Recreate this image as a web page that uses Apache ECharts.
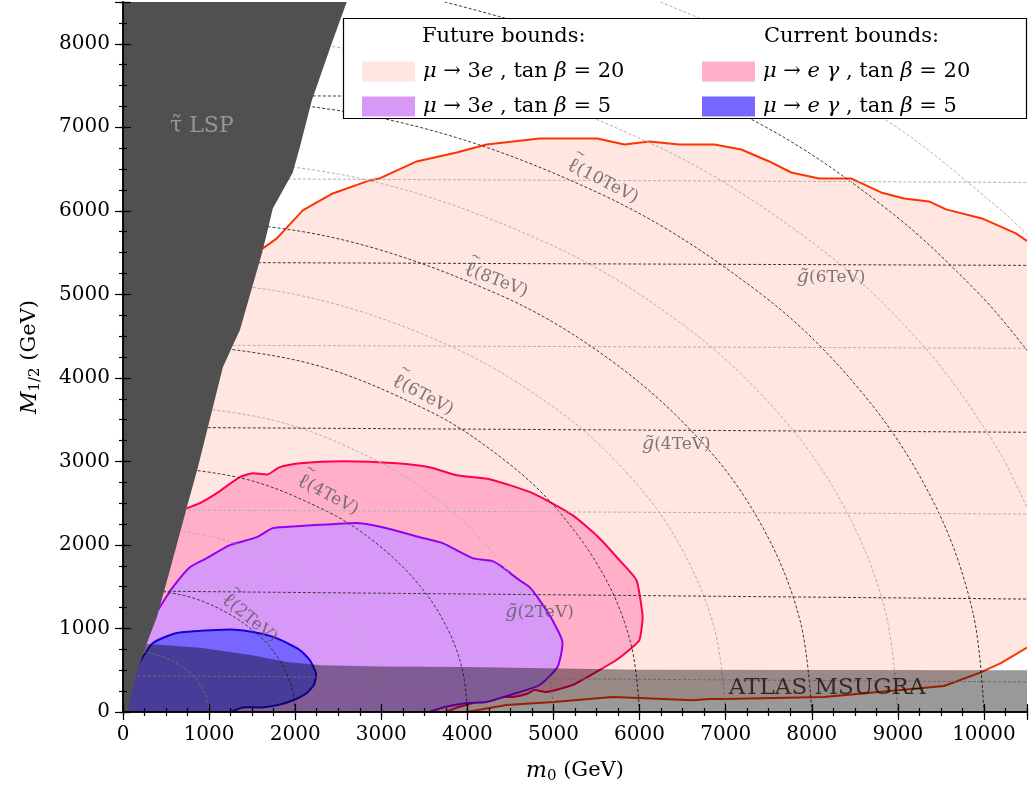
<!DOCTYPE html>
<html><head><meta charset="utf-8">
<script src="https://cdn.jsdelivr.net/npm/echarts/dist/echarts.min.js"></script>
<style>html,body{margin:0;padding:0;background:#fff}#c{width:1030px;height:795px}</style>
</head><body><div id="c"></div><script>
// ---------------- data (m0, M1/2 in GeV) ----------------
const xTickValues = [0,1000,2000,3000,4000,5000,6000,7000,8000,9000,10000];
const yTickValues = [0,1000,2000,3000,4000,5000,6000,7000,8000];

// stau LSP excluded region
const lspRegion = [[0,0],[58,0],[139,419],[278,825],[394,1136],[545,1699],[742,2452],[870,2931],[986,3409],[1160,4127],[1276,4390],[1357,4569],[1613,5490],[1671,5730],[1740,6029],[1972,6459],[2053,6758],[2193,7321],[2436,8038],[2599,8500],[0,8500]];

// future mu->3e, tan beta = 20 (upper and lower boundary)
const future20Upper = [[1624,5550],[1787,5670],[2088,6005],[2436,6208],[2865,6364],[2981,6388],[3411,6591],[3875,6699],[4223,6794],[4838,6866],[5510,6866],[5824,6794],[6114,6830],[6462,6794],[6868,6794],[7181,6734],[7506,6591],[7761,6459],[8086,6388],[8457,6388],[8805,6220],[9072,6148],[9362,6112],[9559,6017],[9977,5909],[10371,5730],[10500,5640]];
const future20Lower = [[10500,770],[10197,586],[9942,466],[9536,311],[8144,179],[6984,155],[6810,155],[6613,140],[5998,167],[5684,179],[5000,120],[4455,84],[3990,0]];
// current mu->e gamma, tan beta = 20
const current20 = [[742,2440],[893,2500],[1090,2620],[1357,2811],[1508,2859],[1682,2845],[1821,2931],[2053,2979],[2552,3002],[3179,2979],[3561,2931],[3875,2835],[4258,2787],[4756,2620],[5220,2356],[5534,2081],[5766,1818],[5963,1579],[6032,1184],[6032,1077],[5998,861],[5905,766],[5731,622],[5534,502],[5220,323],[4919,239],[4780,263],[4687,215],[4524,179],[4432,179],[4200,140],[3900,60],[3750,0]];
// future mu->3e, tan beta = 5
const future5 = [[406,1220],[580,1495],[777,1734],[974,1842],[1241,1998],[1555,2093],[1740,2201],[2019,2225],[2436,2249],[2749,2261],[3063,2201],[3445,2093],[3712,2022],[4060,1842],[4292,1806],[4408,1734],[4571,1603],[4722,1495],[4838,1340],[4988,1100],[5104,837],[5046,538],[4838,323],[4571,227],[4223,120],[3990,108],[3735,60],[3561,0]];
// current mu->e gamma, tan beta = 5
const current5 = [[174,562],[348,825],[626,945],[1090,981],[1300,985],[1508,957],[1770,890],[2053,742],[2169,622],[2240,466],[2220,330],[2135,227],[2000,150],[1800,84],[1600,55],[1392,55],[1250,0]];
// ATLAS mSUGRA exclusion (upper edge)
const atlasEdge = [[0,830],[150,825],[900,770],[1500,680],[1900,600],[2300,560],[3000,545],[4000,538],[6000,505],[10500,500]];

// slepton mass contours
const slepton1 = [[0,745],[343,700],[593,600],[797,450],[915,300],[980,150],[1000,0]];
const slepton2 = [[0,1491],[687,1400],[1187,1200],[1594,900],[1831,600],[1959,300],[2000,0]];
const slepton3 = [[0,2236],[1031,2100],[1780,1800],[2339,1400],[2683,1000],[2924,500],[3000,0]];
const slepton4 = [[0,2981],[1375,2800],[2373,2400],[2966,2000],[3457,1500],[3768,1000],[3943,500],[4000,0]];
const slepton5 = [[0,3727],[1718,3500],[2966,3000],[3708,2500],[4219,2000],[4634,1400],[4911,700],[5000,0]];
const slepton6 = [[0,4472],[2061,4200],[3560,3600],[4450,3000],[5063,2400],[5603,1600],[5903,800],[6000,0]];
const slepton7 = [[0,5217],[2000,5000],[3762,4400],[5067,3600],[5907,2800],[6465,2000],[6870,1000],[7000,0]];
const slepton8 = [[0,5963],[2349,5700],[4359,5000],[5679,4200],[6751,3200],[7436,2200],[7863,1100],[8000,0]];
const slepton9 = [[0,6708],[2696,6400],[4955,5600],[6551,4600],[7678,3500],[8404,2400],[8855,1200],[9000,0]];
const slepton10 = [[0,7454],[3043,7100],[5551,6200],[7416,5000],[8603,3800],[9421,2500],[9870,1200],[10000,0]];
const slepton11 = [[0,8199],[3391,7800],[6146,6800],[8034,5600],[9282,4400],[10128,3200],[10500,2444]];
const slepton12 = [[3735,8500],[5367,8000],[7470,7000],[8899,6000],[9950,5000],[10500,4330]];
const slepton13 = [[6241,8500],[7335,8000],[8989,7000],[10208,6000],[10500,5713]];
// gluino mass contours
const gluino1 = [[0,435],[10500,359]];
const gluino2 = [[0,1450],[10500,1352]];
const gluino3 = [[0,2420],[10500,2370]];
const gluino4 = [[0,3410],[10500,3349]];
const gluino5 = [[0,4395],[10500,4354]];
const gluino6 = [[0,5385],[10500,5347]];
const gluino7 = [[0,6390],[10500,6340]];
const gluino8 = [[0,7385],[10500,7340]];

// ---------------- presentation ----------------
const FF = "'DejaVu Serif', 'Liberation Serif', serif";
const chart = echarts.init(document.getElementById('c'), null, {renderer:'canvas'});

function region(name, fill, stroke, curves, closure, z, smooth) {
  const poly = [].concat(...curves, closure);
  return {
    type:'custom', name, z, clip:true, silent:true, coordinateSystem:'cartesian2d',
    xAxisIndex:0, yAxisIndex:0,
    itemStyle:{color:fill},
    data:[[0,0]],
    renderItem(params, api) {
      const children = [{type:'polygon', shape:{points: poly.map(p => api.coord(p)), smooth: smooth || 0}, style:{fill:fill}}];
      if (stroke) curves.forEach(c => children.push({type:'polyline', shape:{points:c.map(p => api.coord(p)), smooth: smooth || 0}, style:{stroke:stroke, lineWidth:2, fill:null, lineJoin:'round'}}));
      return {type:'group', children};
    }
  };
}
function contour(data, dark) {
  return {type:'line', data, smooth:0.35, showSymbol:false, symbol:'none', silent:true, z:5, clip:true,
    xAxisIndex:0, yAxisIndex:0,
    lineStyle:{color: dark ? '#3a3a3a' : '#b0b0b0', width:1, type:[3,2]}};
}
const sleptons = [slepton1,slepton2,slepton3,slepton4,slepton5,slepton6,slepton7,slepton8,slepton9,slepton10,slepton11,slepton12,slepton13];
const gluinos = [gluino1,gluino2,gluino3,gluino4,gluino5,gluino6,gluino7,gluino8];

// label anchors (layout): slepton labels anchored at their start, gluino labels at centre
const sleptonLabels = [
  {mass:'2TeV', at:[1198,1406], rot:-40},
  {mass:'4TeV', at:[2058,2819], rot:-28},
  {mass:'6TeV', at:[3160,4016], rot:-28},
  {mass:'8TeV', at:[3987,5347], rot:-21},
  {mass:'10TeV', at:[5189,6599], rot:-27}
];
const gluinoLabels = [
  {mass:'2TeV', at:[4838,1196]},
  {mass:'4TeV', at:[6427,3206]},
  {mass:'6TeV', at:[8225,5203]}
];

const labelItems = sleptonLabels.map(d => ({value:d.at, name:'{tl|~}\n{l|\u2113}{t|(' + d.mass + ')}', label:{rotate:d.rot, align:'left'}}))
  .concat(gluinoLabels.map(d => ({value:d.at, name:'{g|g\u0303}{t|(' + d.mass + ')}', label:{align:'center'}})));

const legendText = {
  f20: '{i|\u03bc} \u2192 3{i|e} , tan{i| \u03b2} = 20',
  f5:  '{i|\u03bc} \u2192 3{i|e} , tan{i| \u03b2} = 5',
  c20: '{i|\u03bc} \u2192 {i|e \u03b3} , tan{i| \u03b2} = 20',
  c5:  '{i|\u03bc} \u2192 {i|e \u03b3} , tan{i| \u03b2} = 5'
};
const legendBase = {
  orient:'vertical', top:56, itemWidth:53, itemHeight:20, itemGap:14, icon:'rect', selectedMode:false, z:12,
  itemStyle:{borderWidth:0},
  formatter: n => legendText[n],
  textStyle:{fontFamily:FF, fontSize:21, color:'#000', lineHeight:20, padding:[0,0,0,3],
    rich:{i:{fontFamily:FF, fontSize:21, fontStyle:'italic', color:'#000'}}}
};

const nameRich = {
  i:{fontFamily:FF, fontSize:22, fontStyle:'italic', color:'#000', lineHeight:26},
  s:{fontFamily:FF, fontSize:15, color:'#000', verticalAlign:'bottom', lineHeight:16},
  n:{fontFamily:FF, fontSize:21, color:'#000', lineHeight:26}
};
function axisX(pos, major, labels) {
  return {type:'value', position:pos, min:0, max:10500, interval: major ? 1000 : 250, z:20,
    axisLine:{show:major, lineStyle:{color:'#000', width:1.5}},
    axisTick:{show:true, inside:true, length: major ? 8 : 4, lineStyle:{color:'#000', width:1.2}},
    axisLabel:{show:labels, margin:13, color:'#000', fontFamily:FF, fontSize:20,
      formatter: v => xTickValues.includes(v) ? String(v) : ''},
    splitLine:{show:false},
    name: labels ? '{i|m}{s|0}{n| (GeV)}' : '', nameLocation:'middle', nameGap:46,
    nameTextStyle:{rich:nameRich}};
}
function axisY(pos, major, labels) {
  return {type:'value', position:pos, min:0, max:8500, interval: major ? 1000 : 250, z:20,
    axisLine:{show:major, lineStyle:{color:'#000', width:1.5}},
    axisTick:{show:true, inside:true, length: major ? 8 : 4, lineStyle:{color:'#000', width:1.2}},
    axisLabel:{show:labels, margin:13, color:'#000', fontFamily:FF, fontSize:20,
      formatter: v => yTickValues.includes(v) ? String(v) : ''},
    splitLine:{show:false},
    name: labels ? '{i|M}{s|1/2}{n| (GeV)}' : '', nameLocation:'middle', nameGap:80,
    nameTextStyle:{rich:nameRich}};
}

const labelColor = '#5a5a5a';
const series = [
  region('f20', '#FFE6E1', '#FF3300', [future20Upper, future20Lower], [[0,0],[0,5550]], 1, 0),
  region('c20', '#FFB0C8', '#FF0050', [current20], [[0,0],[0,2440]], 2, 0.2),
  region('f5',  '#D898F8', '#9400F0', [future5], [[0,0],[0,1220]], 3, 0.2),
  region('c5',  '#7766FF', '#1800D8', [current5], [[0,0],[0,562]], 4, 0.2),
  ...sleptons.map((s,i) => contour(s, (i+1) % 2 === 0)),
  ...gluinos.map((g,i) => contour(g, (i+1) % 2 === 0)),
  {type:'scatter', silent:true, z:6, symbolSize:0, data:labelItems, xAxisIndex:0, yAxisIndex:0,
    label:{show:true, position:'inside', formatter: p => p.name, color:labelColor,
      rich:{tl:{fontFamily:FF, fontSize:13, color:labelColor, lineHeight:7, padding:[0,0,0,1]},
            l:{fontFamily:FF, fontSize:21, color:labelColor, lineHeight:22},
            g:{fontFamily:FF, fontSize:19, fontStyle:'italic', color:labelColor},
            t:{fontFamily:FF, fontSize:17, color:labelColor, lineHeight:22}}}},
  region('atlas', 'rgba(0,0,0,0.4)', null, [atlasEdge], [[10500,0],[0,0]], 7, 0),
  {type:'scatter', silent:true, z:8, symbolSize:0, xAxisIndex:0, yAxisIndex:0,
    data:[{value:[8179,287], name:'ATLAS MSUGRA'}],
    label:{show:true, position:'inside', formatter:p => p.name, color:'#111', fontFamily:FF, fontSize:23}},
  region('lsp', '#505050', null, [lspRegion], [], 9, 0),
  {type:'scatter', silent:true, z:10, symbolSize:0, xAxisIndex:0, yAxisIndex:0,
    data:[{value:[916,7010], name:'\u03c4\u0303 LSP'}],
    label:{show:true, position:'inside', formatter:p => p.name, color:'#a8a8a8', fontFamily:FF, fontSize:22}}
];

chart.setOption({
  animation:false,
  backgroundColor:'#fff',
  grid:{left:123, right:3, top:2, bottom:83, containLabel:false, outerBoundsMode:'none'},
  xAxis:[axisX('bottom', true, true), axisX('bottom', false, false), axisX('top', true, false), axisX('top', false, false)],
  yAxis:[axisY('left', true, true), axisY('left', false, false), axisY('right', true, false), axisY('right', false, false)],
  legend:[
    Object.assign({}, legendBase, {left:357, data:['f20','f5']}),
    Object.assign({}, legendBase, {left:697, data:['c20','c5']})
  ],
  graphic:[
    {type:'rect', z:11, shape:{x:343.5, y:18.5, width:683, height:100}, style:{fill:'#fff', stroke:'#000', lineWidth:1.2}},
    {type:'text', z:12, x:422, y:37, style:{text:'Future bounds:', fontFamily:FF, fontSize:21, fill:'#000', verticalAlign:'middle'}},
    {type:'text', z:12, x:764, y:37, style:{text:'Current bounds:', fontFamily:FF, fontSize:21, fill:'#000', verticalAlign:'middle'}}
  ],
  series
});
</script></body></html>
